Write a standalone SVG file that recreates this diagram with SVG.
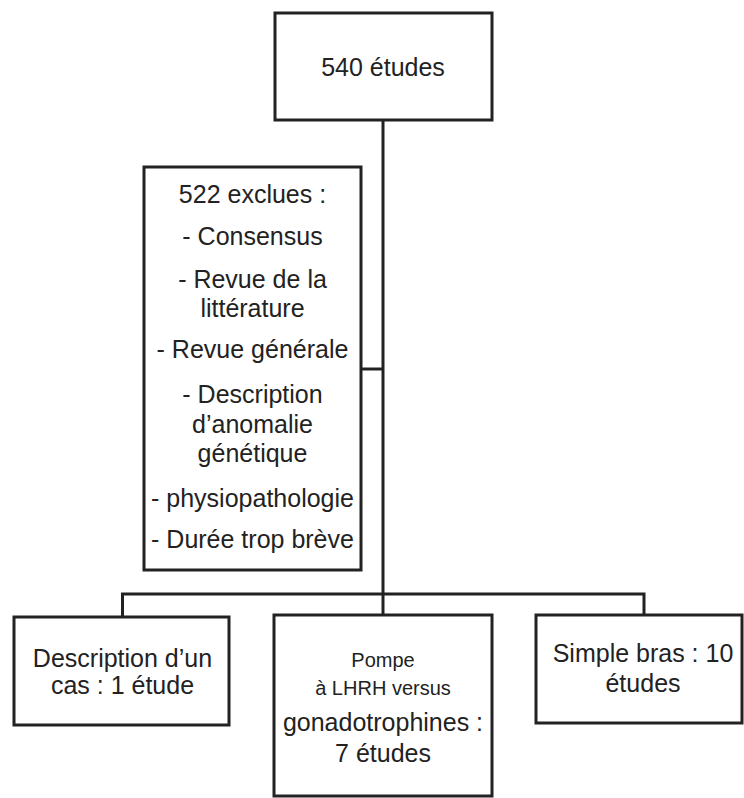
<svg xmlns="http://www.w3.org/2000/svg" width="744" height="798" viewBox="0 0 744 798">
<style>
.box{fill:#fff;stroke:#222;stroke-width:3}
.ln{fill:none;stroke:#222;stroke-width:3}
text{font-family:"Liberation Sans",Arial,sans-serif;font-size:25px;fill:#222;text-anchor:middle}
.sm{font-size:20px}
</style>
<rect width="744" height="798" fill="#fff"/>
<g id="connectors">
<path class="ln" d="M383,120 V594"/>
<path class="ln" d="M361,369 H383"/>
<path class="ln" d="M122.5,617 V594 H644 V615"/>
<path class="ln" d="M383,594 V615"/>
</g>
<g id="n-total">
<rect class="box" x="275" y="13" width="217" height="107"/>
<text x="383" y="76">540 études</text>
</g>
<g id="n-exclues">
<rect class="box" x="144" y="167" width="217" height="403"/>
<text x="252.5" y="203">522 exclues :</text>
<text x="252.5" y="245">- Consensus</text>
<text x="252.5" y="288">- Revue de la</text>
<text x="252.5" y="317">littérature</text>
<text x="252.5" y="358">- Revue générale</text>
<text x="252.5" y="403">- Description</text>
<text x="252.5" y="433">d’anomalie</text>
<text x="252.5" y="462">génétique</text>
<text x="252.5" y="507">- physiopathologie</text>
<text x="252.5" y="548">- Durée trop brève</text>
</g>
<g id="n-cas">
<rect class="box" x="14" y="617" width="215" height="108"/>
<text x="122.5" y="667">Description d’un</text>
<text x="122.5" y="694">cas : 1 étude</text>
</g>
<g id="n-pompe">
<rect class="box" x="274" y="615" width="218" height="181"/>
<text class="sm" x="383" y="667">Pompe</text>
<text class="sm" x="383" y="695">à LHRH versus</text>
<text x="383" y="731">gonadotrophines :</text>
<text x="383" y="762">7 études</text>
</g>
<g id="n-simple">
<rect class="box" x="536" y="615" width="206" height="108"/>
<text x="643" y="662">Simple bras : 10</text>
<text x="643" y="692">études</text>
</g>
</svg>
